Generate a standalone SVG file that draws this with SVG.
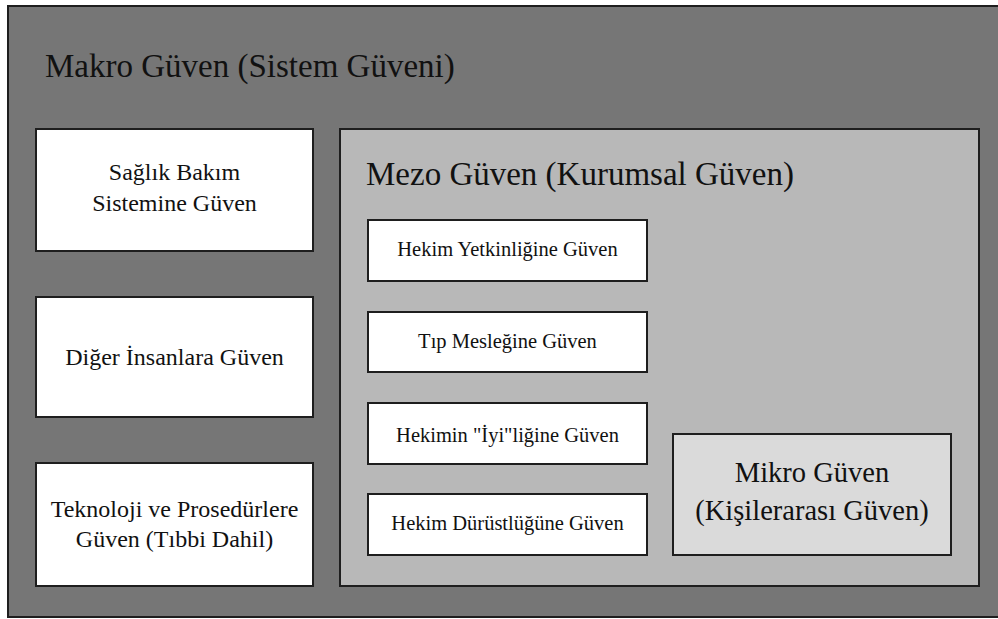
<svg xmlns="http://www.w3.org/2000/svg" width="998" height="619" viewBox="0 0 998 619">
<style>
  .box { stroke: #1e1e1e; stroke-width: 2; }
  .white { fill: #ffffff; }
  text { font-family: "Liberation Serif", "Times New Roman", serif; fill: #111111; }
  .t { text-anchor: middle; }
  .title { font-size: 33px; }
  .lbl { font-size: 24px; }
  .sm { font-size: 20.5px; }
  .mk { font-size: 28.5px; }
</style>
<rect width="998" height="619" fill="#ffffff"/>
<g id="makro">
  <rect class="box" x="8" y="6" width="1000" height="611" fill="#767676"/>
  <text class="title" x="45" y="77">Makro Güven (Sistem Güveni)</text>
</g>
<g id="saglik">
  <rect class="box white" x="36" y="129" width="277" height="122"/>
  <text class="t lbl" x="174.5" y="180">Sağlık Bakım</text>
  <text class="t lbl" x="174.5" y="211">Sistemine Güven</text>
</g>
<g id="diger">
  <rect class="box white" x="36" y="297" width="277" height="120"/>
  <text class="t lbl" x="174.5" y="365">Diğer İnsanlara Güven</text>
</g>
<g id="teknoloji">
  <rect class="box white" x="36" y="463" width="277" height="123"/>
  <text class="t lbl" x="174.5" y="517">Teknoloji ve Prosedürlere</text>
  <text class="t lbl" x="174.5" y="547">Güven (Tıbbi Dahil)</text>
</g>
<g id="mezo">
  <rect class="box" x="340" y="129" width="639" height="457" fill="#b8b8b8"/>
  <text class="title" x="366" y="185">Mezo Güven (Kurumsal Güven)</text>
</g>
<g id="yetkinlik">
  <rect class="box white" x="368" y="220" width="279" height="61"/>
  <text class="t sm" x="507.5" y="256">Hekim Yetkinliğine Güven</text>
</g>
<g id="tip">
  <rect class="box white" x="368" y="312" width="279" height="60"/>
  <text class="t sm" x="507.5" y="348">Tıp Mesleğine Güven</text>
</g>
<g id="iyilik">
  <rect class="box white" x="368" y="403" width="279" height="61"/>
  <text class="t sm" x="507.5" y="442">Hekimin "İyi"liğine Güven</text>
</g>
<g id="durustluk">
  <rect class="box white" x="368" y="494" width="279" height="61"/>
  <text class="t sm" x="507.5" y="530">Hekim Dürüstlüğüne Güven</text>
</g>
<g id="mikro">
  <rect class="box" x="673" y="434" width="278" height="121" fill="#dadada"/>
  <text class="t mk" x="812" y="482">Mikro Güven</text>
  <text class="t mk" x="812" y="520">(Kişilerarası Güven)</text>
</g>
<g id="connectors"></g>
</svg>
